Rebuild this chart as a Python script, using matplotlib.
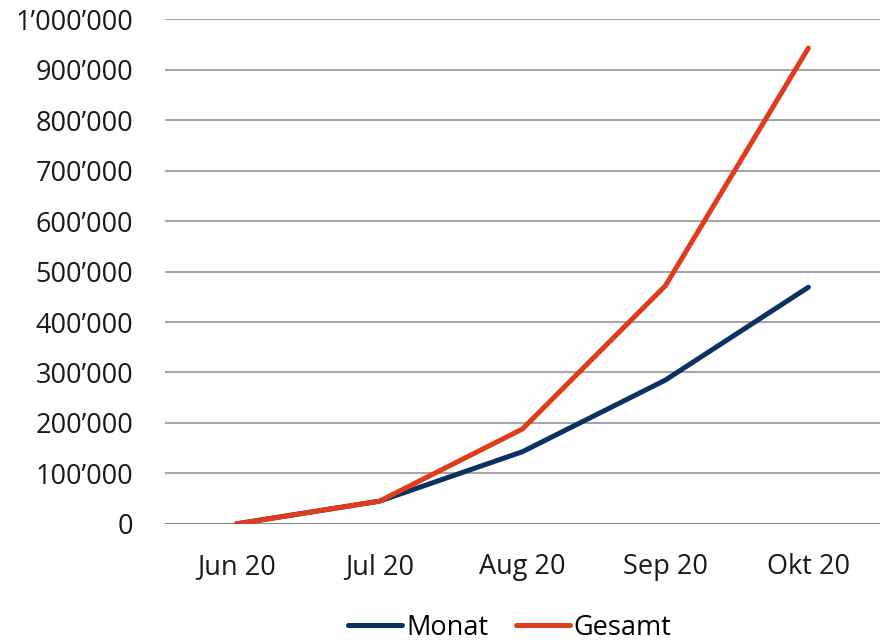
import matplotlib.pyplot as plt
from matplotlib.ticker import FuncFormatter, MultipleLocator

plt.rcParams['font.family'] = ['Open Sans', 'DejaVu Sans']

months = ['Jun 20', 'Jul 20', 'Aug 20', 'Sep 20', 'Okt 20']
monat = [0, 45000, 143000, 285000, 469000]
gesamt = [0, 45000, 188000, 472000, 943000]


def swiss(v, pos):
    return '{:,.0f}'.format(v).replace(',', '\u2019')


fig = plt.figure(figsize=(8.87, 6.42), dpi=100)
ax = fig.add_axes([0.186, 0.184, 0.806, 0.786])

x = range(len(months))
ax.plot(x, monat, color='#0a3161', linewidth=3.6, solid_capstyle='round', label='Monat', zorder=3)
ax.plot(x, gesamt, color='#e03c1c', linewidth=3.6, solid_capstyle='round', label='Gesamt', zorder=4)

ax.set_xlim(-0.5, 4.5)
ax.set_ylim(0, 1000000)
ax.yaxis.set_major_locator(MultipleLocator(100000))
ax.yaxis.set_major_formatter(FuncFormatter(swiss))
ax.set_xticks(list(x))
ax.set_xticklabels(months)

ax.grid(axis='y', color='#a6a6a6', linewidth=1.5)
ax.axhline(0, color='#808080', linewidth=1.8, zorder=2)
ax.set_axisbelow(True)
for s in ax.spines.values():
    s.set_visible(False)
ax.tick_params(length=0, labelsize=19.5, colors='#1a1a1a')
ax.tick_params(axis='x', pad=21)
ax.tick_params(axis='y', pad=23)

ax.legend(loc='center', bbox_to_anchor=(0.4825, -0.206), ncol=2, frameon=False,
          fontsize=19.5, handlelength=2.0, handletextpad=0.15, columnspacing=1.0)

fig.savefig('out.png', dpi=100)
